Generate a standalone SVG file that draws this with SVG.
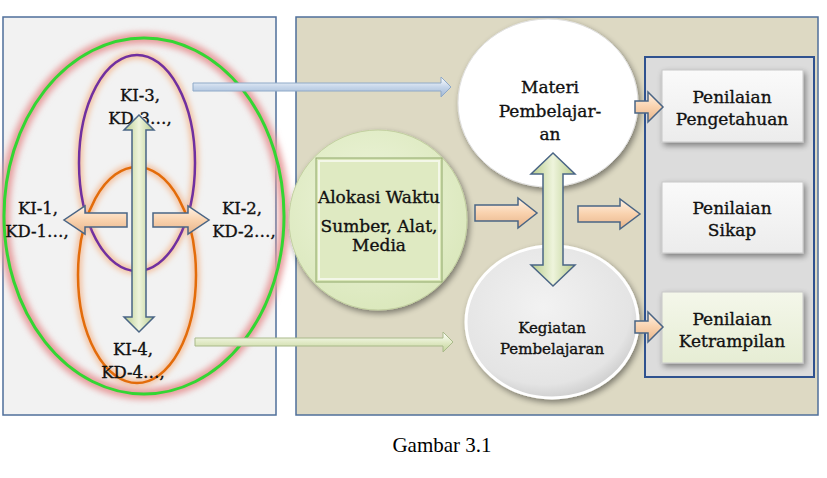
<svg xmlns="http://www.w3.org/2000/svg" width="827" height="478" viewBox="0 0 827 478">
<style>
.t{font-family:"DejaVu Serif","Liberation Serif",serif;fill:#111;stroke:#111;stroke-width:0.35;text-anchor:middle}
.ki{font-size:16.5px}
.big{font-size:17px}
.mid{font-size:15px}
.box{stroke:#c8c8c8;stroke-width:1}
.barrow{stroke:#4a6585;stroke-width:1.5;stroke-linejoin:miter}
</style>
<defs>
<filter id="glow" x="-20%" y="-20%" width="140%" height="140%"><feGaussianBlur stdDeviation="3"/></filter>
<filter id="shadow" x="-20%" y="-20%" width="140%" height="140%"><feGaussianBlur in="SourceAlpha" stdDeviation="3"/><feOffset dx="2" dy="3"/><feComponentTransfer><feFuncA type="linear" slope="0.45"/></feComponentTransfer><feMerge><feMergeNode/><feMergeNode in="SourceGraphic"/></feMerge></filter>
<linearGradient id="orange" x1="0" y1="0" x2="0" y2="1"><stop offset="0" stop-color="#fff3e6"/><stop offset="0.5" stop-color="#f9d2ae"/><stop offset="1" stop-color="#e7b48a"/></linearGradient>
<linearGradient id="greenV" x1="0" y1="0" x2="1" y2="0"><stop offset="0" stop-color="#b8cc8c"/><stop offset="0.5" stop-color="#eef4dc"/><stop offset="1" stop-color="#b8cc8c"/></linearGradient>
<linearGradient id="blueC" x1="0" y1="0" x2="0" y2="1"><stop offset="0" stop-color="#ffffff"/><stop offset="0.5" stop-color="#c6d6ea"/><stop offset="1" stop-color="#9fb6d2"/></linearGradient>
<linearGradient id="greenC" x1="0" y1="0" x2="0" y2="1"><stop offset="0" stop-color="#ffffff"/><stop offset="0.5" stop-color="#e2ebc8"/><stop offset="1" stop-color="#c3d39a"/></linearGradient>
<radialGradient id="grayCirc" cx="0.45" cy="0.4" r="0.6"><stop offset="0" stop-color="#f2f2f2"/><stop offset="0.85" stop-color="#e4e4e4"/><stop offset="1" stop-color="#d0d0d0"/></radialGradient>
<radialGradient id="greenCirc" cx="0.45" cy="0.4" r="0.6"><stop offset="0" stop-color="#eef5dc"/><stop offset="1" stop-color="#dbe8bd"/></radialGradient>
<linearGradient id="boxG" x1="0" y1="0" x2="0" y2="1"><stop offset="0" stop-color="#fafafa"/><stop offset="1" stop-color="#ececec"/></linearGradient>
<linearGradient id="boxGreen" x1="0" y1="0" x2="0" y2="1"><stop offset="0" stop-color="#f4f7ea"/><stop offset="1" stop-color="#e6edd4"/></linearGradient>
</defs>

<g id="panel-left">
<rect x="3" y="17" width="273" height="398" fill="#f2f2f2" stroke="#4f6f9a" stroke-width="1.5"/>
</g>
<g id="panel-right">
<rect x="296" y="17" width="522" height="398" fill="#ddd9c3" stroke="#4f6f9a" stroke-width="1.5"/>
</g>

<g id="ellipse-outer">
<ellipse cx="144" cy="216" rx="140" ry="178" fill="none" stroke="#e79c9c" stroke-width="11" filter="url(#glow)"/>
<ellipse cx="144" cy="216" rx="140" ry="178" fill="none" stroke="#33d633" stroke-width="3"/>
</g>
<g id="ellipse-ki3">
<ellipse cx="137" cy="163" rx="58" ry="108" fill="none" stroke="#f3b48a" stroke-width="6" filter="url(#glow)"/>
<ellipse cx="137" cy="163" rx="58" ry="108" fill="none" stroke="#7030a0" stroke-width="2.5"/>
</g>
<g id="ellipse-ki4">
<ellipse cx="137" cy="275" rx="59" ry="108" fill="none" stroke="#f3b48a" stroke-width="6" filter="url(#glow)"/>
<ellipse cx="137" cy="275" rx="59" ry="108" fill="none" stroke="#e36c0a" stroke-width="2.5"/>
</g>

<g id="node-ki3"><text class="t ki" x="140" y="101">KI-3,</text><text class="t ki" x="140" y="124">KD-3…,</text></g>
<g id="node-ki1"><text class="t ki" x="38" y="214">KI-1,</text><text class="t ki" x="37" y="237">KD-1…,</text></g>
<g id="node-ki2"><text class="t ki" x="242" y="214">KI-2,</text><text class="t ki" x="244" y="237">KD-2…,</text></g>
<g id="node-ki4"><text class="t ki" x="133" y="355">KI-4,</text><text class="t ki" x="133" y="378">KD-4…,</text></g>

<g id="node-alokasi">
<ellipse cx="378" cy="220" rx="89" ry="90" fill="url(#greenCirc)" stroke="#c2d0a0" stroke-width="1" filter="url(#shadow)"/>
<rect x="316" y="158" width="126" height="124" fill="#d9e6b8" stroke="#8fa86a" stroke-width="1"/>
<rect x="319" y="161" width="120" height="118" fill="#dfeac2" stroke="#f3f7e8" stroke-width="2"/>
<text class="t big" x="379" y="203">Alokasi Waktu</text>
<text class="t big" x="379" y="232">Sumber, Alat,</text>
<text class="t big" x="379" y="251">Media</text>
</g>

<g id="node-materi">
<ellipse cx="548" cy="103" rx="90" ry="84" fill="#ffffff" stroke="#e0e0e0" stroke-width="1" filter="url(#shadow)"/>
<text class="t big" x="550" y="93">Materi</text>
<text class="t big" x="550" y="117">Pembelajar-</text>
<text class="t big" x="550" y="140">an</text>
</g>

<g id="node-kegiatan">
<ellipse cx="552" cy="322" rx="86" ry="76" fill="url(#grayCirc)" stroke="#ffffff" stroke-width="3" filter="url(#shadow)"/>
<text class="t mid" x="552" y="333">Kegiatan</text>
<text class="t mid" x="552" y="354">Pembelajaran</text>
</g>

<g id="panel-penilaian">
<rect x="645" y="57" width="169" height="320" fill="#dcdcdc" stroke="#2f528f" stroke-width="2"/>
</g>
<g id="node-pengetahuan">
<rect x="662" y="70" width="141" height="72" fill="url(#boxG)" class="box" filter="url(#shadow)"/>
<text class="t big" x="732" y="103">Penilaian</text>
<text class="t big" x="732" y="125">Pengetahuan</text>
</g>
<g id="node-sikap">
<rect x="662" y="182" width="141" height="71" fill="url(#boxG)" class="box" filter="url(#shadow)"/>
<text class="t big" x="732" y="214">Penilaian</text>
<text class="t big" x="732" y="236">Sikap</text>
</g>
<g id="node-ketrampilan">
<rect x="662" y="292" width="141" height="71" fill="url(#boxGreen)" class="box" filter="url(#shadow)"/>
<text class="t big" x="732" y="325">Penilaian</text>
<text class="t big" x="732" y="347">Ketrampilan</text>
</g>

<g id="connectors">
<path class="barrow" fill="url(#orange)" d="M127,213 L85,213 L85,206 L64,220 L85,234 L85,227 L127,227 Z"/>
<path class="barrow" fill="url(#orange)" d="M153,213 L188,213 L188,206 L209,220 L188,234 L188,227 L153,227 Z"/>
<path class="barrow" fill="url(#greenV)" d="M139,115 L154,130 L146,130 L146,317 L154,317 L139,332 L124,317 L132,317 L132,130 L124,130 Z"/>
<path fill="url(#blueC)" stroke="#8ea9c8" stroke-width="1" d="M193,83 L441,83 L441,77 L451,87 L441,97 L441,91 L193,91 Z"/>
<path fill="url(#greenC)" stroke="#a9b98a" stroke-width="1" d="M195,338 L443,338 L443,332 L453,342 L443,352 L443,346 L195,346 Z"/>
<path class="barrow" fill="url(#orange)" d="M475,205 L518,205 L518,198 L537,213 L518,228 L518,221 L475,221 Z"/>
<path class="barrow" fill="url(#greenV)" d="M553,153 L575,174 L563,174 L563,265 L575,265 L553,286 L531,265 L543,265 L543,174 L531,174 Z"/>
<path class="barrow" fill="url(#orange)" d="M578,206 L620,206 L620,199 L640,214 L620,229 L620,222 L578,222 Z"/>
<path class="barrow" fill="url(#orange)" d="M635,101 L648,101 L648,92 L663,107 L648,122 L648,113 L635,113 Z"/>
<path class="barrow" fill="url(#orange)" d="M635,321 L648,321 L648,312 L663,327 L648,342 L648,333 L635,333 Z"/>
</g>

<text x="442" y="452" font-family="Liberation Serif, serif" font-size="21" text-anchor="middle" fill="#000">Gambar 3.1</text>
</svg>
